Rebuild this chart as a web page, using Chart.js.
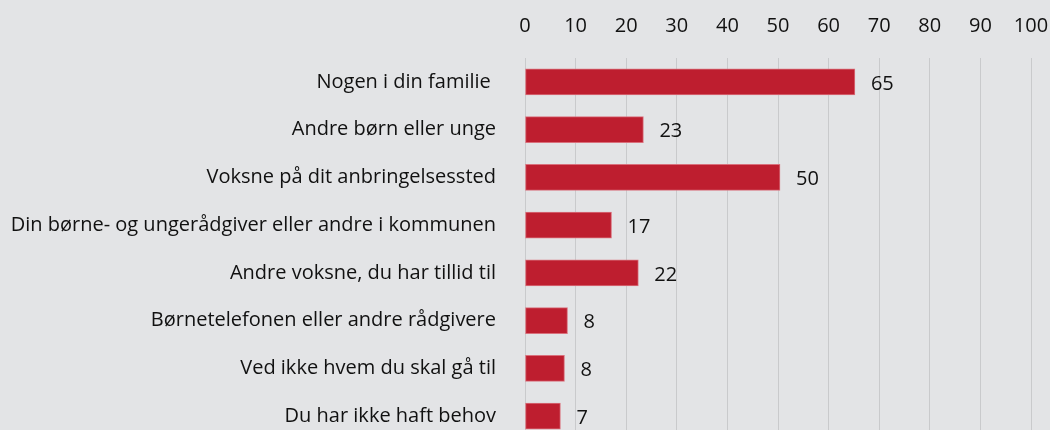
<!DOCTYPE html>
<html>
<head>
<meta charset="utf-8">
<script src="https://cdn.jsdelivr.net/npm/chart.js@4"></script>
<style>
  html, body { margin: 0; padding: 0; background: #e3e4e6; overflow: hidden; }
  canvas { display: block; }
</style>
</head>
<body>
<canvas id="chart" width="1050" height="440"></canvas>
<script>
// categories and shares (%)
const categories = [
  'Nogen i din familie ',
  'Andre børn eller unge',
  'Voksne på dit anbringelsessted',
  'Din børne- og ungerådgiver eller andre i kommunen',
  'Andre voksne, du har tillid til',
  'Børnetelefonen eller andre rådgivere',
  'Ved ikke hvem du skal gå til',
  'Du har ikke haft behov'
];
const values = [65.2, 23.4, 50.4, 17.1, 22.4, 8.4, 7.8, 7.0];
const valueLabels = ['65', '23', '50', '17', '22', '8', '8', '7'];
const xTicks = [0, 10, 20, 30, 40, 50, 60, 70, 80, 90, 100];

const FONT = '"Open Sans", "Noto Sans", sans-serif';
const TEXT = '#111111';

// value labels to the right of each bar
const barLabels = {
  id: 'barLabels',
  afterDatasetsDraw(chart) {
    const ctx = chart.ctx;
    const meta = chart.getDatasetMeta(0);
    ctx.save();
    ctx.font = '20px ' + FONT;
    ctx.fillStyle = TEXT;
    ctx.textAlign = 'left';
    ctx.textBaseline = 'middle';
    meta.data.forEach((bar, i) => {
      ctx.fillText(valueLabels[i], bar.x + 16, bar.y + 2);
    });
    ctx.restore();
  }
};

new Chart(document.getElementById('chart').getContext('2d'), {
  type: 'bar',
  data: {
    labels: categories,
    datasets: [{
      data: values,
      backgroundColor: '#be1e2f',
      borderColor: '#d9707c',
      borderWidth: 1,
      borderSkipped: false,
      barThickness: 26
    }]
  },
  options: {
    indexAxis: 'y',
    responsive: false,
    animation: false,
    layout: { padding: { left: 0, right: 19, top: 0, bottom: 0 } },
    plugins: {
      legend: { display: false },
      tooltip: { enabled: false }
    },
    scales: {
      x: {
        position: 'top',
        min: 0,
        max: 100,
        afterBuildTicks: (scale) => { scale.ticks = xTicks.map(v => ({ value: v })); },
        afterFit: (scale) => {
          scale.height = 58;
          scale.paddingLeft = 0;
          scale.paddingRight = 0;
        },
        grid: { color: '#c9cacc', lineWidth: 1, drawTicks: false },
        border: { display: false },
        ticks: {
          padding: 20,
          color: TEXT,
          font: { family: FONT, size: 20 },
          maxRotation: 0
        }
      },
      y: {
        afterFit: (scale) => {
          scale.width = 525;
          scale.paddingTop = 0;
          scale.paddingBottom = 0;
        },
        grid: { display: false, drawTicks: false },
        border: { display: false },
        ticks: {
          padding: 29,
          color: TEXT,
          font: { family: FONT, size: 20 }
        }
      }
    }
  },
  plugins: [barLabels]
});
</script>
</body>
</html>
